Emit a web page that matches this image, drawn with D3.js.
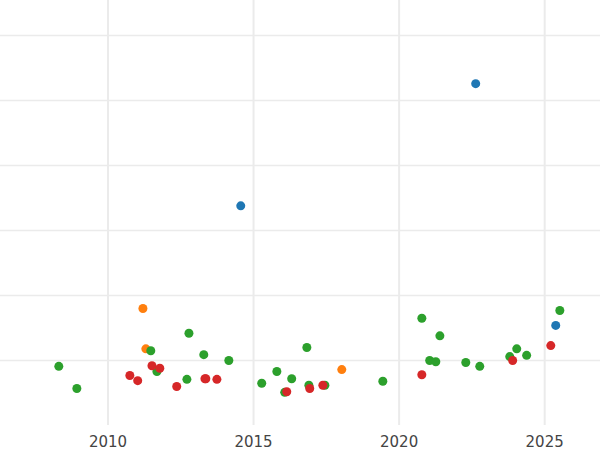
<!DOCTYPE html>
<html><head><meta charset="UTF-8">
<script src="https://cdn.jsdelivr.net/npm/d3@7"></script>
<style>body{margin:0;background:#fff}</style></head>
<body><div id="chart"></div>
<script>
var series = ["blue", "orange", "green", "red"];
var colors = ["#1f77b4", "#ff7f0e", "#2ca02c", "#d62728"];
var blueX = [2014.56, 2022.63, 2025.38];
var blueY = [3.38, 5.26, 1.54];
var orangeX = [2011.2, 2011.3, 2018.03];
var orangeY = [1.8, 1.18, 0.86];
var greenX = [2008.31, 2008.93, 2011.47, 2011.68, 2012.71, 2012.78, 2013.29, 2014.15, 2015.28, 2015.8, 2016.07, 2016.31, 2016.83, 2016.9, 2017.45, 2019.44, 2020.78, 2021.05, 2021.26, 2021.4, 2022.29, 2022.77, 2023.8, 2024.04, 2024.38, 2025.52];
var greenY = [0.91, 0.57, 1.15, 0.83, 0.71, 1.42, 1.09, 1.0, 0.65, 0.83, 0.51, 0.72, 1.2, 0.62, 0.62, 0.68, 1.65, 1.0, 0.98, 1.38, 0.97, 0.91, 1.06, 1.18, 1.08, 1.77];
var redX = [2010.75, 2011.02, 2011.51, 2011.78, 2012.36, 2013.33, 2013.36, 2013.74, 2016.14, 2016.93, 2017.38, 2020.78, 2023.9, 2025.21];
var redY = [0.77, 0.69, 0.92, 0.88, 0.6, 0.72, 0.72, 0.71, 0.52, 0.57, 0.62, 0.78, 1.0, 1.23];
var xTicks = [2010, 2015, 2020, 2025];
var yTicks = [1, 2, 3, 4, 5, 6];

var W = 600, H = 450;
var x = d3.scaleLinear().domain([2006.29, 2026.9]).range([0, W]);
var y = d3.scaleLinear().domain([-0.377, 6.547]).range([H, 0]);

var svg = d3.select("#chart").append("svg").attr("width", W).attr("height", H);

svg.selectAll(".hg").data(yTicks).enter().append("line")
    .attr("x1", 0).attr("x2", W)
    .attr("y1", function(d) { return y(d); }).attr("y2", function(d) { return y(d); })
    .style("stroke", "#ebebeb").style("stroke-width", 1.5);
svg.selectAll(".vg").data(xTicks).enter().append("line")
    .attr("y1", 0).attr("y2", 425)
    .attr("x1", function(d) { return x(d); }).attr("x2", function(d) { return x(d); })
    .style("stroke", "#ebebeb").style("stroke-width", 2);

svg.selectAll(".xl").data(xTicks).enter().append("text")
    .attr("x", function(d) { return x(d); }).attr("y", 447)
    .attr("text-anchor", "middle")
    .style("font-family", "DejaVu Sans").style("font-size", "15px").style("fill", "#444")
    .text(function(d) { return d; });

var xs = [blueX, orangeX, greenX, redX], ys = [blueY, orangeY, greenY, redY];
series.forEach(function(s, i) {
    var pts = xs[i].map(function(v, j) { return [v, ys[i][j]]; });
    svg.selectAll(".p" + i).data(pts).enter().append("circle")
        .attr("cx", function(d) { return x(d[0]); })
        .attr("cy", function(d) { return y(d[1]); })
        .attr("r", 4.5)
        .style("fill", colors[i]);
});
</script>
</body></html>
